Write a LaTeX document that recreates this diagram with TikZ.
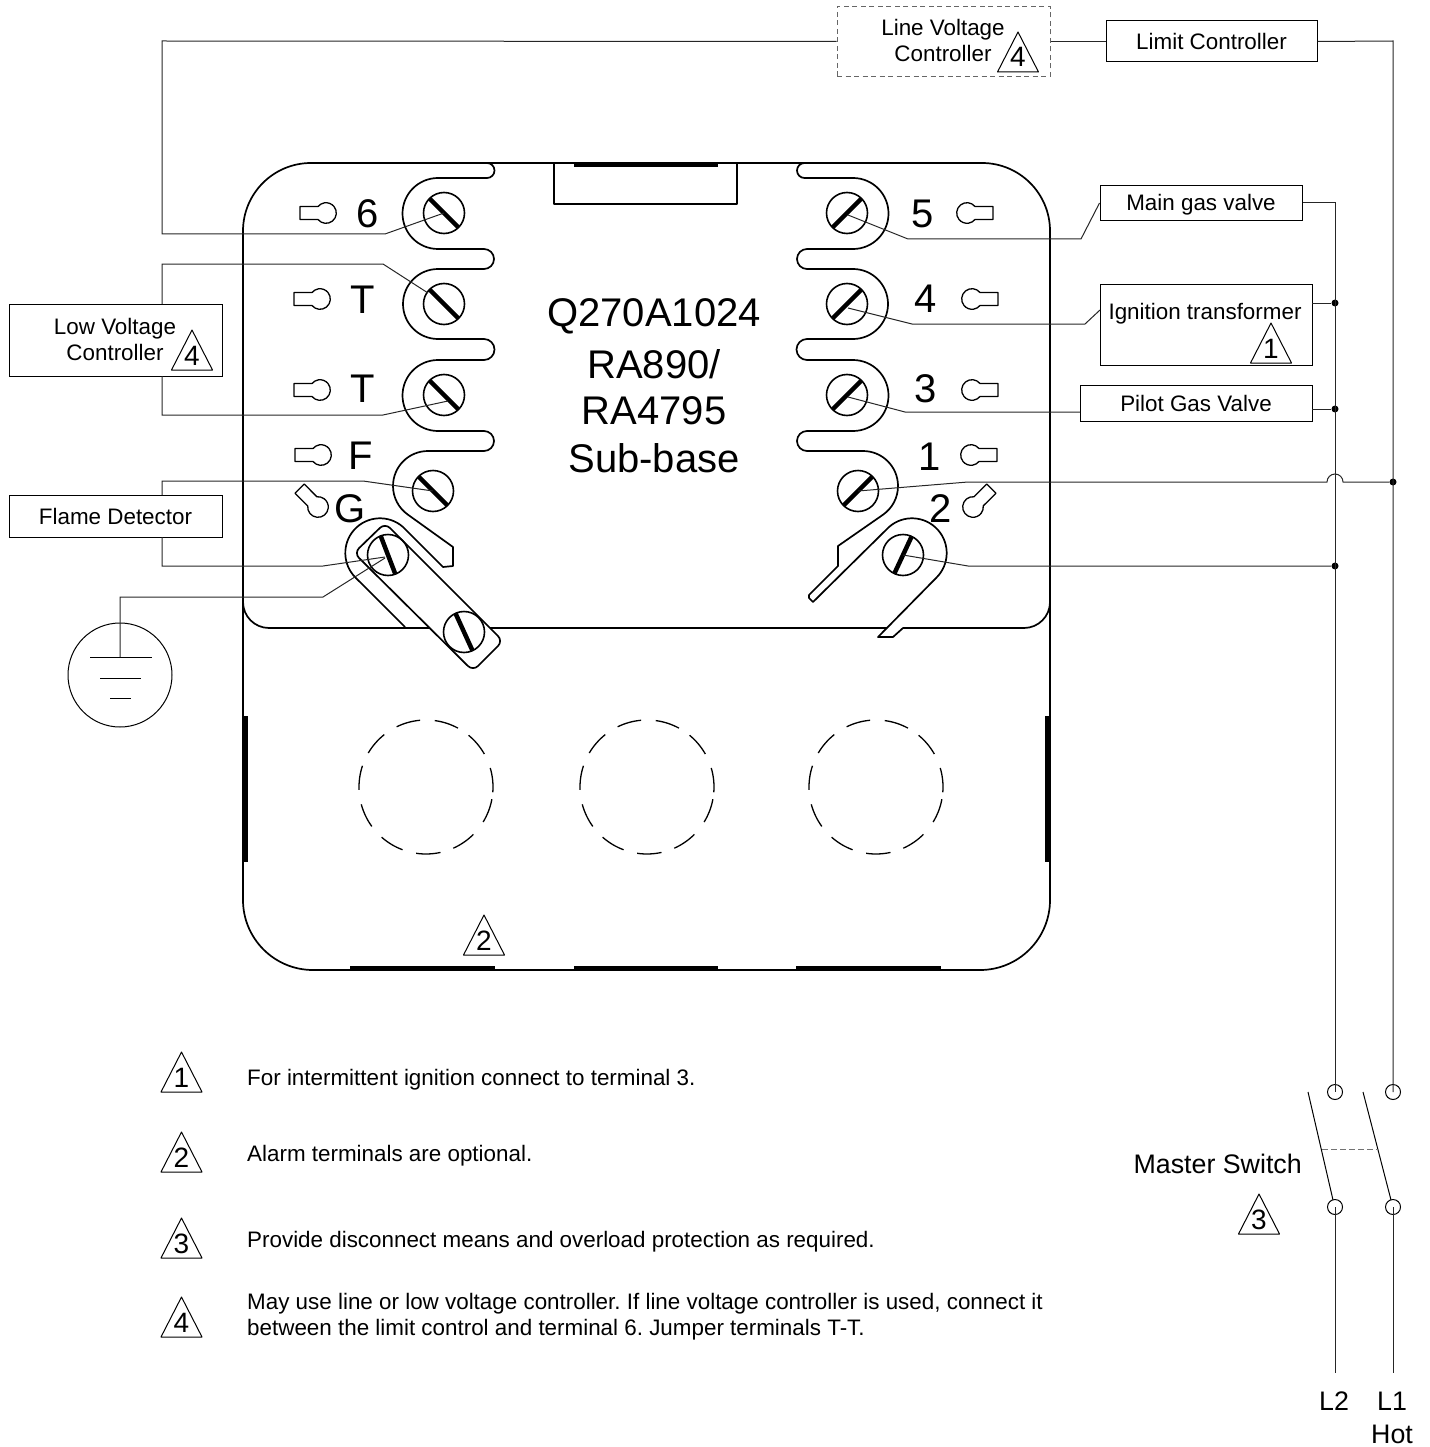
\documentclass[tikz,border=0pt]{standalone}
\usepackage{fontspec}
\setmainfont{Liberation Sans}
\tikzset{
  boardline/.style={line width=1.7pt,line join=round},
  wire/.style={line width=1pt,black!85},
  thickedge/.style={line width=5pt},
  boxed/.style={draw,line width=1pt,inner sep=0pt,text height=16pt,text depth=0pt,font=\fontsize{22.4}{26}\selectfont},
  dashbox/.style={draw=black!60,dashed,dash pattern=on 5pt off 3.5pt,line width=1pt,inner sep=0pt},
  txtS/.style={inner sep=0pt,text height=16pt,text depth=0pt,font=\fontsize{22.4}{26}\selectfont},
  txtM/.style={inner sep=0pt,text height=19.2pt,text depth=0pt,font=\fontsize{26.8}{30}\selectfont},
  txtL/.style={inner sep=0pt,text height=28.6pt,text depth=0pt,font=\fontsize{40}{44}\selectfont},
  trinum/.style={inner sep=0pt,text height=20pt,text depth=0pt,font=\fontsize{28}{30}\selectfont},
  screwhead/.style={draw,circle,line width=1.6pt,minimum size=41pt,inner sep=0pt},
  contact/.style={draw,circle,line width=1pt,minimum size=15pt,inner sep=0pt},
  junction/.style={fill,circle,minimum size=7pt,inner sep=0pt},
  slotbar/.style={line width=4.5pt},
  keyhole/.pic={\draw[line width=1.3pt,line join=round] (-26,-6.5) -- (-8,-6.5) arc[start angle=219,end angle=501,radius=10.3pt] -- (-26,6.5) -- cycle;}
}
\newcommand{\screwat}[4]{%
  \node[screwhead] (#1) at (#2,#3) {};
  \draw[slotbar] (#1.center) +(#4:20) -- +(#4+180:20);}
\newcommand{\deltaat}[4]{%
  \node[trinum] (#1) at (#2,#3) {#4};
  \draw[line width=1pt,line join=round] (#1.center) ++(0,-25) -- ++(20.5,40) -- ++(-41,0) -- cycle;}
\newcommand{\knockout}[2]{%
  \foreach \a in {288,320,354,21,55.5,88,121,154.5,188,221,254.5}{
    \draw[line width=1.3pt] (#1,#2) ++(\a-10.5:67) arc[start angle=\a-10.5,end angle=\a+10.5,radius=67pt];}}
\begin{document}
\frenchspacing
\begin{tikzpicture}[x=1pt,y=1pt,yscale=-1]
\useasboundingbox (0,0) rectangle (1429,1447);

% board outline
\draw[boardline] (243,900) -- (243,231) arc[start angle=180,end angle=270,radius=68pt] -- (982,163)
  arc[start angle=270,end angle=360,radius=68pt] -- (1050,900)
  arc[start angle=0,end angle=90,radius=70pt] -- (313,970)
  arc[start angle=90,end angle=180,radius=70pt];
\draw[boardline] (243,602) arc[start angle=180,end angle=90,radius=26pt] -- (887,628);
\draw[boardline] (554,163) -- (554,204) -- (737,204) -- (737,163);
\draw[thickedge] (574,165) -- (718,165);
\draw[thickedge] (350,968) -- (495,968);
\draw[thickedge] (574,968) -- (718,968);
\draw[thickedge] (796,968) -- (941,968);
\draw[thickedge] (245,716) -- (245,862);
\draw[thickedge] (1047,716) -- (1047,862);

% left comb and G lead
\draw[boardline] (487,163) arc[start angle=270,end angle=450,radius=7.5pt] -- (438,178)
  arc[start angle=270,end angle=90,radius=35.5pt] -- (484,249)
  arc[start angle=270,end angle=450,radius=10pt] -- (438,269)
  arc[start angle=270,end angle=90,radius=35pt] -- (484,339)
  arc[start angle=270,end angle=450,radius=10.5pt] -- (438,360)
  arc[start angle=270,end angle=90,radius=35.5pt] -- (484,431)
  arc[start angle=270,end angle=450,radius=10pt] -- (428,451)
  arc[start angle=270,end angle=125,radius=35pt] -- (453,547) -- (453,566) -- (443,567) -- (403,527)
  arc[start angle=311.5,end angle=135,radius=34.7pt] -- (405,627);

% right comb and terminal 2 lead
\draw[boardline] (804.5,163) arc[start angle=270,end angle=90,radius=7.5pt] -- (853,178)
  arc[start angle=270,end angle=450,radius=35.5pt] -- (807,249)
  arc[start angle=270,end angle=90,radius=10pt] -- (853,269)
  arc[start angle=270,end angle=450,radius=35pt] -- (807,339)
  arc[start angle=270,end angle=90,radius=10.5pt] -- (853,360)
  arc[start angle=270,end angle=450,radius=35.5pt] -- (807,431)
  arc[start angle=270,end angle=90,radius=10pt] -- (863,451)
  arc[start angle=270,end angle=415,radius=35pt] -- (838,546) -- (838,566) -- (809,595) -- (809,598) -- (813,602) -- (889,527)
  arc[start angle=228.5,end angle=405,radius=34.7pt] -- (878,637) -- (893,637) -- (903,628) -- (1024,628)
  arc[start angle=90,end angle=0,radius=26pt];

% ground strap
\draw[boardline,fill=white,rounded corners=7pt] (385,523) -- (503,641) -- (473,671) -- (354,553) -- cycle;

% screws
\screwat{s6}{444}{213}{45}
\screwat{sTa}{444}{304}{45}
\screwat{sTb}{444}{395}{45}
\screwat{sF}{433}{491}{45}
\screwat{sG}{388}{555}{69}
\screwat{sStrap}{464}{632}{65.5}
\screwat{s5}{847}{213}{135}
\screwat{s4}{847}{304}{135}
\screwat{s3}{847}{395}{135}
\screwat{s1}{858}{491}{135}
\screwat{s2}{903}{555}{115}

% keyholes
\pic at (326,213) {keyhole};
\pic at (320,299) {keyhole};
\pic at (320,390) {keyhole};
\pic at (321,455) {keyhole};
\pic[rotate=-45] at (318,507) {keyhole};
\pic[rotate=180] at (967,213) {keyhole};
\pic[rotate=180] at (972,299) {keyhole};
\pic[rotate=180] at (972,390) {keyhole};
\pic[rotate=180] at (971,455) {keyhole};
\pic[rotate=-135] at (973,507) {keyhole};

% terminal labels
\node[txtL] (l6) at (368,213) {6};
\node[txtL] (lTa) at (363,299) {T};
\node[txtL] (lTb) at (363,388) {T};
\node[txtL] (lF) at (361,455) {F};
\node[txtL] (lG) at (350,508) {G};
\node[txtL] (l5) at (923,213) {5};
\node[txtL] (l4) at (926,298) {4};
\node[txtL] (l3) at (926,388) {3};
\node[txtL] (l1) at (930,456) {1};
\node[txtL] (l2) at (941,508) {2};
\node[txtL] (ta) at (654,312) {Q270A1024};
\node[txtL] (tb) at (654,364) {RA890/};
\node[txtL] (tc) at (654,410) {RA4795};
\node[txtL] (td) at (654,458) {Sub-base};

% knockouts
\knockout{426}{787}
\knockout{647}{787}
\knockout{876}{787}
\deltaat{tBoard}{484}{940}{2}

% boxes
\node[dashbox,minimum width=213pt,minimum height=70pt] (lineV) at (943.5,41.5) {};
\node[txtS] (lineVa) at (943,28) {Line Voltage};
\node[txtS] (lineVb) at (943,54) {Controller};
\deltaat{tLine}{1018}{57}{4}
\node[boxed,minimum width=211pt,minimum height=41pt] (limit) at (1211.5,41.5) {Limit Controller};
\node[boxed,minimum width=202pt,minimum height=35pt] (mainGas) at (1201,203) {Main gas valve};
\node[draw,line width=1pt,inner sep=0pt,minimum width=212pt,minimum height=81pt] (ignition) at (1206,324.5) {};
\node[txtS] (ignitionT) at (1205,311) {Ignition transformer};
\deltaat{tIgn}{1271}{348}{1}
\node[boxed,minimum width=232pt,minimum height=36pt] (pilot) at (1196,403) {Pilot Gas Valve};
\node[draw,line width=1pt,inner sep=0pt,minimum width=213pt,minimum height=72pt] (lowV) at (115.5,340) {};
\node[txtS] (lowVa) at (115,326) {Low Voltage};
\node[txtS] (lowVb) at (115,352) {Controller};
\deltaat{tLow}{192}{355}{4}
\node[boxed,minimum width=213pt,minimum height=42pt] (flame) at (115.5,516) {Flame Detector};

% ground
\node[draw,circle,line width=1pt,minimum size=104pt,inner sep=0pt] (earth) at (120,675) {};
\coordinate (earthTop) at (120,657);
\draw[line width=1pt] (90,657) -- (152,657);
\draw[line width=1pt] (100,678) -- (141,678);
\draw[line width=1pt] (110,698) -- (131,698);

% switch
\node[contact] (swTL) at (1335,1092) {};
\node[contact] (swTR) at (1393,1092) {};
\node[contact] (swBL) at (1335,1207) {};
\node[contact] (swBR) at (1393,1207) {};
\coordinate (bladeLa) at (1308,1092);
\coordinate (bladeLb) at (1333,1200);
\coordinate (bladeRa) at (1363,1092);
\coordinate (bladeRb) at (1391,1200);
\coordinate (tieL) at (1322,1149);
\coordinate (tieR) at (1378,1149);
\draw[line width=1pt] (bladeLa) -- (bladeLb);
\draw[line width=1pt] (bladeRa) -- (bladeRb);
\draw[line width=1pt,black!55,dash pattern=on 6pt off 3pt] (tieL) -- (tieR);
\coordinate (endL2) at (1335,1373);
\coordinate (endL1) at (1393,1373);
\node[txtM] (tL2) at (1334,1401) {L2};
\node[txtM] (tL1) at (1392,1401) {L1};
\node[txtM] (tHot) at (1392,1434) {Hot};
\node[txtM,anchor=east] (tMaster) at (1302,1164) {Master Switch};
\deltaat{tSwitch}{1259}{1219}{3}

% junctions
\node[junction] (j1) at (1335,303) {};
\node[junction] (j2) at (1335,409) {};
\node[junction] (j3) at (1335,566) {};
\node[junction] (j4) at (1393,482) {};

% wires
\draw[wire] (lineV.west) -- (162,41) -- (162,234) -- (385,234) -- (s6.center);
\draw[wire] (162,304) -- (162,264) -- (383,264) -- (428,293);
\draw[wire] (162,376) -- (162,415) -- (383,415) -- (448,401);
\draw[wire] (162,495) -- (162,481) -- (363,481) -- (sF.center);
\draw[wire] (162,537) -- (162,566) -- (323,566) -- (385,557);
\draw[wire] (earthTop) -- (120,597) -- (323,597) -- (385,558);
\draw[wire] (lineV.east) -- (limit.west);
\draw[wire] (limit.east) -- (1393,41) -- (swTR.center);
\draw[wire] (mainGas.east) -- (1335,203) -- (swTL.center);
\draw[wire] (848,215) -- (908,239) -- (1081,239) -- (mainGas.west);
\draw[wire] (848,308) -- (912,324) -- (1085,324) -- (1100,310);
\draw[wire] (848,397) -- (905,412) -- (1080,412);
\draw[wire] (1312,303) -- (j1);
\draw[wire] (1312,409) -- (j2);
\draw[wire] (s1.center) -- (968,482) -- (1327,482) arc[start angle=180,end angle=360,radius=8pt] -- (j4);
\draw[wire] (s2.center) -- (968,566) -- (j3);
\draw[wire] (swBL.center) -- (endL2);
\draw[wire] (swBR.center) -- (endL1);

% notes
\deltaat{n1}{181.5}{1077}{1}
\deltaat{n2}{181.5}{1157}{2}
\deltaat{n3}{181.5}{1243}{3}
\deltaat{n4}{181.5}{1322}{4}
\node[txtS,anchor=west] (n1t) at (247,1077) {For intermittent ignition connect to terminal 3.};
\node[txtS,anchor=west] (n2t) at (247,1153) {Alarm terminals are optional.};
\node[txtS,anchor=west] (n3t) at (247,1239) {Provide disconnect means and overload protection as required.};
\node[txtS,anchor=west] (n4a) at (247,1301) {May use line or low voltage controller. If line voltage controller is used, connect it};
\node[txtS,anchor=west] (n4b) at (247,1327) {between the limit control and terminal 6. Jumper terminals T-T.};
\end{tikzpicture}
\end{document}
